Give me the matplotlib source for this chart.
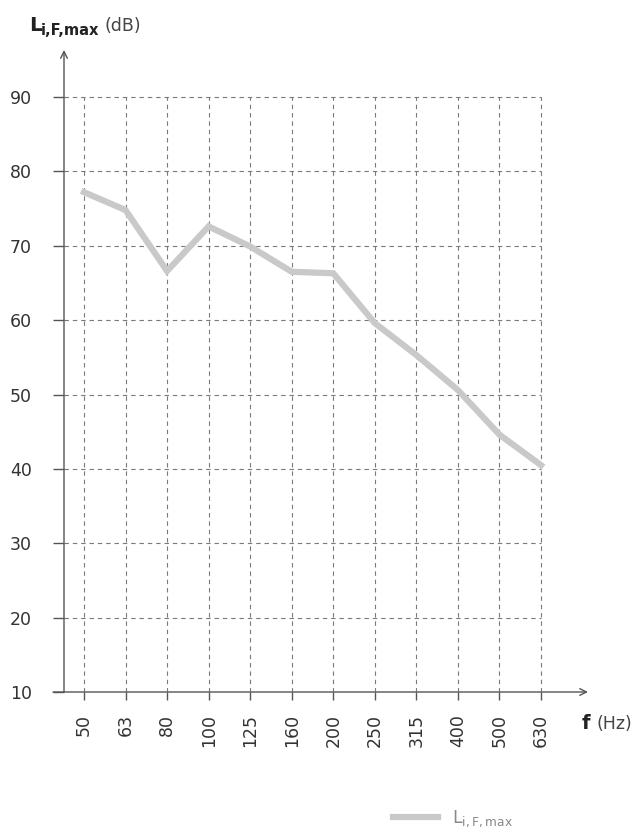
import matplotlib
matplotlib.use("Agg")
import matplotlib.pyplot as plt
import numpy as np

plt.rcParams['mathtext.fontset'] = 'dejavusans'

freqs = ["50", "63", "80", "100", "125", "160", "200", "250", "315", "400", "500", "630"]
levels = [77.2, 74.8, 66.6, 72.6, 69.9, 66.5, 66.3, 59.6, 55.3, 50.6, 44.6, 40.5]
yticks = [10, 20, 30, 40, 50, 60, 70, 80, 90]

W, H = 634, 830
fig = plt.figure(figsize=(W / 100, H / 100), dpi=100)
ax = fig.add_axes([64 / W, 1 - 692 / H, (588 - 64) / W, (692 - 50) / H])

x = np.arange(len(freqs))
xmin, xmax = -0.481, 12.131
ymin, ymax = 10, 96.32
ax.set_xlim(xmin, xmax)
ax.set_ylim(ymin, ymax)

grid_kw = dict(color='#7a7a7a', linewidth=0.8, linestyle=(0, (4, 3.5)), zorder=1)
ax.vlines(x, yticks[0], yticks[-1], **grid_kw)
ax.hlines(yticks[1:], xmin, x[-1], **grid_kw)

ax.plot(x, levels, color='#c9c9c9', linewidth=4.5, solid_joinstyle='miter', zorder=3,
        label=r'$\mathregular{L_{i,F,max}}$')

for s in ax.spines.values():
    s.set_visible(False)

axis_col = '#555555'
ax.annotate('', xy=(0, 1), xytext=(0, 0), xycoords='axes fraction',
            arrowprops=dict(arrowstyle='->', color=axis_col, lw=1.0, shrinkA=0, shrinkB=0,
                            mutation_scale=12))
ax.annotate('', xy=(1, 0), xytext=(-11 / 524, 0), xycoords='axes fraction',
            arrowprops=dict(arrowstyle='->', color=axis_col, lw=1.0, shrinkA=0, shrinkB=0,
                            mutation_scale=12))

ax.set_xticks(x)
ax.set_xticklabels(freqs, rotation=90, fontsize=12.5, color='#333333')
ax.set_yticks(yticks)
ax.set_yticklabels([str(v) for v in yticks], fontsize=12.5, color='#333333')
ax.tick_params(axis='y', length=8, width=1, color=axis_col, pad=15)
ax.tick_params(axis='x', length=6, width=1, color=axis_col, pad=10)

# axis titles
fig.text(29 / W, 1 - 31 / H, 'L', fontsize=14.5, fontweight='bold', color='#222222',
         ha='left', va='baseline')
fig.text(41 / W, 1 - 35 / H, 'i,F,max', fontsize=10.5, fontweight='bold', color='#222222',
         ha='left', va='baseline')
fig.text(104 / W, 1 - 31 / H, '(dB)', fontsize=12.5, color='#444444', ha='left', va='baseline')
fig.text(582 / W, 1 - 729 / H, 'f', fontsize=14, fontweight='bold', color='#222222',
         ha='left', va='baseline')
fig.text(596 / W, 1 - 729 / H, '(Hz)', fontsize=12.5, color='#444444', ha='left', va='baseline')

leg = ax.legend(loc='upper left', bbox_to_anchor=(313 / 524, -(793 - 692) / 642),
                frameon=False, fontsize=12.5, handlelength=2.6, labelcolor='#888888')

fig.savefig('out.png', dpi=100)
